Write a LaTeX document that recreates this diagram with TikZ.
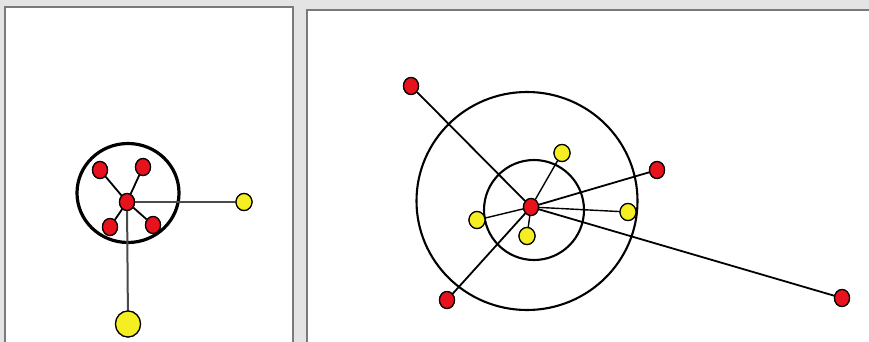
\documentclass[tikz,border=0pt]{standalone}
\usetikzlibrary{shapes.geometric}
\definecolor{bg}{HTML}{E4E4E4}
\definecolor{frame}{HTML}{7A7A7A}
\definecolor{nred}{HTML}{E8121C}
\definecolor{nyel}{HTML}{F4EE22}
\definecolor{grayline}{HTML}{4A4A4A}
\begin{document}
\begin{tikzpicture}[x=1pt,y=-1pt,
  panel/.style={fill=white,draw=frame,line width=2.8pt},
  rnode/.style={ellipse,draw=black,line width=1.2pt,fill=nred,inner sep=0pt,minimum width=15pt,minimum height=17pt},
  ynode/.style={ellipse,draw=black,line width=1.2pt,fill=nyel,inner sep=0pt,minimum width=16pt,minimum height=17pt},
  bigy/.style={ynode,minimum width=25pt,minimum height=26pt},
  link/.style={draw=black,line width=1.8pt},
  thinlink/.style={draw=black,line width=1.4pt},
  glink/.style={draw=grayline,line width=2pt},
  ring/.style={draw=black,line width=2.1pt}]
\fill[bg] (0,0) rectangle (869,342);
\useasboundingbox (0,0) rectangle (869,342);
% panels
\draw[panel] (5,7) rectangle (293,360);
\draw[panel] (307,10) rectangle (890,360);
% ---------- left panel ----------
\draw[draw=black,line width=3.2pt] (128,193) ellipse (51 and 49.5);
\node[rnode] (lc) at (127,202) {};
\node[rnode] (l1) at (100,170) {};
\node[rnode] (l2) at (143,167) {};
\node[rnode] (l3) at (110,227) {};
\node[rnode] (l4) at (153,225) {};
\node[ynode] (ly1) at (244,202) {};
\node[bigy] (ly2) at (128,324) {};
% ---------- right panel ----------
\draw[ring] (527,201) ellipse (110.5 and 109);
\draw[ring] (534,210) circle (50);
\node[rnode] (rc) at (531,207) {};
\node[rnode] (r1) at (411,86) {};
\node[rnode] (r2) at (657,170) {};
\node[rnode] (r3) at (447,300) {};
\node[rnode] (r4) at (842,298) {};
\node[ynode] (y1) at (562,153) {};
\node[ynode] (y2) at (477,220) {};
\node[ynode] (y3) at (527,236) {};
\node[ynode] (y4) at (628,212) {};
% connectors
\draw[glink] (lc) -- (ly1);
\draw[glink] (lc) -- (ly2);
\draw[link] (lc) -- (l1);
\draw[link] (lc) -- (l2);
\draw[link] (lc) -- (l3);
\draw[link] (lc) -- (l4);
\draw[link] (rc) -- (r1);
\draw[link] (rc) -- (r2);
\draw[link] (rc) -- (r3);
\draw[link] (rc) -- (r4);
\draw[thinlink] (rc) -- (y1);
\draw[thinlink] (rc) -- (y2);
\draw[thinlink] (rc) -- (y3);
\draw[thinlink] (rc) -- (y4);
% redraw nodes on top of lines
\foreach \n in {lc,l1,l2,l3,l4,rc,r1,r2,r3,r4}{\node[rnode] at (\n) {};}
\foreach \n in {ly1,y1,y2,y3,y4}{\node[ynode] at (\n) {};}
\node[bigy] at (ly2) {};
\end{tikzpicture}
\end{document}
